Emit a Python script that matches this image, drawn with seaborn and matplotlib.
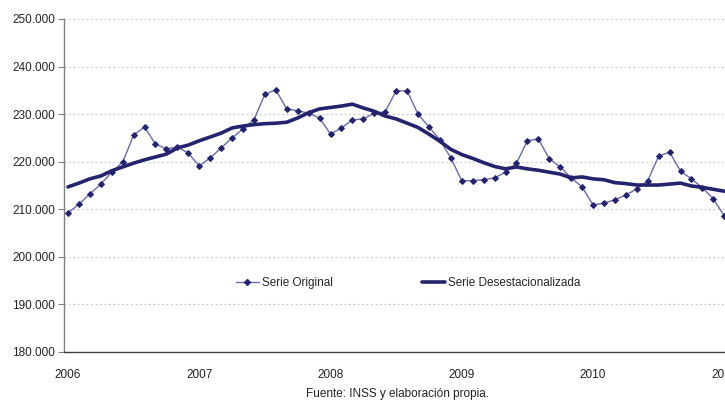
import numpy as np
import pandas as pd
import matplotlib
matplotlib.use("Agg")
import matplotlib.pyplot as plt
from matplotlib.lines import Line2D
from matplotlib.ticker import FuncFormatter
import seaborn as sns

# Monthly data, Jan 2006 .. Jan 2011 (thousands of affiliates)
serie_original = [
    209.2, 211.1, 213.2, 215.3, 217.8, 219.9, 225.6, 227.3, 223.7, 222.7, 223.1, 221.8,
    219.1, 220.8, 222.9, 225.0, 226.9, 228.8, 234.2, 235.1, 231.1, 230.7, 230.2, 229.2,
    225.8, 227.1, 228.8, 229.0, 230.2, 230.5, 234.9, 234.9, 230.0, 227.3, 224.6, 220.8,
    216.0, 216.0, 216.2, 216.6, 217.8, 219.7, 224.4, 224.8, 220.6, 218.9, 216.6, 214.7,
    210.9, 211.3, 212.0, 213.0, 214.3, 216.0, 221.2, 222.0, 218.0, 216.4, 214.5, 212.2,
    208.6,
]
serie_desest = [
    214.7, 215.5, 216.4, 217.0, 218.1, 218.9, 219.7, 220.4, 221.0, 221.6, 222.9, 223.5,
    224.4, 225.2, 226.0, 227.1, 227.5, 227.8, 228.0, 228.1, 228.3, 229.2, 230.3, 231.1,
    231.4, 231.7, 232.1, 231.3, 230.6, 229.6, 229.0, 228.1, 227.2, 225.8, 224.3, 222.6,
    221.5, 220.7, 219.8, 219.0, 218.5, 218.9, 218.5, 218.2, 217.8, 217.4, 216.6, 216.8,
    216.4, 216.2, 215.6, 215.4, 215.1, 215.1, 215.1, 215.3, 215.5, 214.9, 214.6, 214.2,
    213.8,
]
year_labels = ["2006", "2007", "2008", "2009", "2010", "2011"]
series_names = ["Serie Original", "Serie Desestacionalizada"]
source_text = "Fuente: INSS y elaboración propia."

df = pd.DataFrame({
    "mes": np.arange(len(serie_original)),
    "orig": np.array(serie_original) * 1000,
    "desest": np.array(serie_desest) * 1000,
})

sns.set_theme(style="white")
plt.rcParams["font.family"] = ["Liberation Sans", "DejaVu Sans"]

fig = plt.figure(figsize=(7.25, 4.0), dpi=100)
ax = fig.add_axes([63.5 / 725, 48 / 400, (779 - 63.5) / 725, 333 / 400])

navy = "#23236e"
light = "#6a6aa6"

sns.lineplot(data=df, x="mes", y="orig", ax=ax, color=light, linewidth=1.0,
             marker="D", markersize=3.0, markerfacecolor=navy,
             markeredgecolor=navy, zorder=3)
sns.lineplot(data=df, x="mes", y="desest", ax=ax, color=navy, linewidth=2.6,
             zorder=4)

ax.set_xticks(np.arange(0, 12 * len(year_labels), 12))
ax.set_xticklabels(year_labels)
ax.set_yticks(np.arange(180000, 250001, 10000))
ax.yaxis.set_major_formatter(FuncFormatter(lambda v, p: f"{int(v):,}".replace(",", ".")))
ax.set_xlim(-0.41, 65)
ax.set_ylim(180000, 250000)
ax.set_xlabel("")
ax.set_ylabel("")

for v in np.arange(190000, 250001, 10000):
    ax.axhline(v, color="#c4c4c4", lw=0.8, ls=(0, (1.5, 2.5)), zorder=1)

for s in ["top", "right"]:
    ax.spines[s].set_visible(False)
ax.spines["left"].set_color("#808080")
ax.spines["left"].set_linewidth(1.0)
ax.spines["bottom"].set_color("#404040")
ax.spines["bottom"].set_linewidth(1.0)

ax.tick_params(axis="y", left=True, length=4, width=0.8, color="#808080",
               labelsize=8.5, labelcolor="#222222", pad=2)
ax.tick_params(axis="x", bottom=False, labelsize=8.5, labelcolor="#222222", pad=6)

handles = [
    Line2D([], [], color=light, lw=1.0, marker="D", markersize=3.0,
           markerfacecolor=navy, markeredgecolor=navy),
    Line2D([], [], color=navy, lw=2.6),
]
ax.legend(handles, series_names, ncol=2, frameon=False, loc="center",
          bbox_to_anchor=(0.4815, 0.207), fontsize=8.5, handlelength=1.9,
          handletextpad=0.25, columnspacing=7.6)

fig.text(398 / 725, 6 / 400, source_text, ha="center", va="center",
         fontsize=8.5, color="#222222")

fig.savefig("out.png", dpi=100)
